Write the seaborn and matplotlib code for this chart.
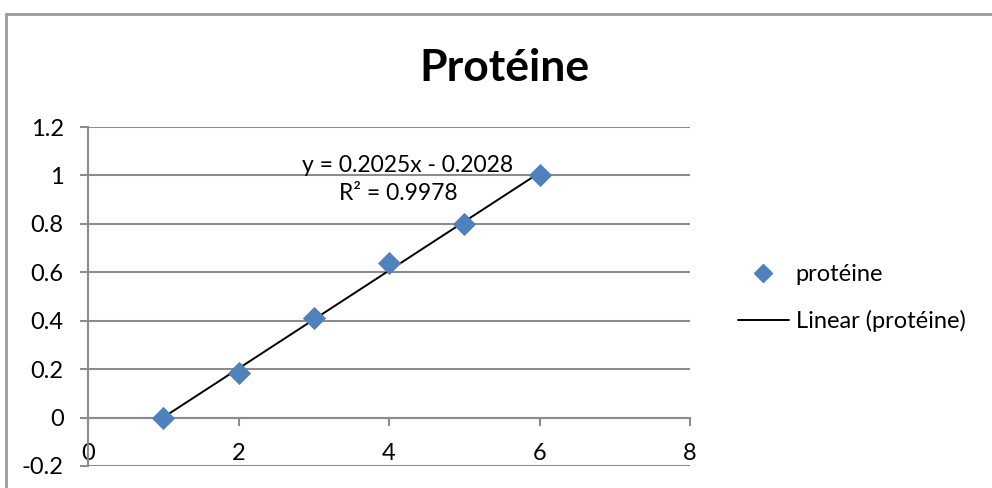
import numpy as np
import pandas as pd
import matplotlib
matplotlib.use("Agg")
import matplotlib.pyplot as plt
import seaborn as sns
from matplotlib.lines import Line2D

# données
concentration = [1, 2, 3, 4, 5, 6]
absorbance = [0.0, 0.185, 0.41, 0.64, 0.80, 1.0]
y_ticks = [-0.2, 0, 0.2, 0.4, 0.6, 0.8, 1.0, 1.2]
y_labels = ["-0.2", "0", "0.2", "0.4", "0.6", "0.8", "1", "1.2"]
x_ticks = [0, 2, 4, 6, 8]
x_labels = ["0", "2", "4", "6", "8"]
equation = "y = 0.2025x - 0.2028"
r_carre = "R² = 0.9978"

df = pd.DataFrame({"x": concentration, "y": absorbance})

sns.set_style("white")
plt.rcParams['font.family'] = ['Lato', 'DejaVu Sans']
plt.rcParams['text.color'] = 'black'
plt.rcParams['xtick.labelcolor'] = 'black'
plt.rcParams['ytick.labelcolor'] = 'black'

W, H = 992, 488
fig = plt.figure(figsize=(W / 100, H / 100), dpi=100)
ax = fig.add_axes([88 / W, 1 - 466 / H, (690 - 88) / W, (466 - 127) / H])

grille = '#8c8c8c'
bleu = '#4F81BD'
taille = 17

sns.regplot(data=df, x='x', y='y', ax=ax, scatter=False, ci=None, truncate=True,
            color='black', line_kws={'linewidth': 1.4, 'zorder': 3})
sns.scatterplot(data=df, x='x', y='y', ax=ax, marker='D', s=140, color=bleu,
                edgecolor=bleu, linewidth=0, zorder=4, legend=False)

ax.set_xlim(0, 8)
ax.set_ylim(-0.2, 1.2)
ax.set_yticks(y_ticks)
ax.set_yticklabels(y_labels)
ax.set_xticks(x_ticks)
ax.set_xticklabels(x_labels)
ax.set_xlabel('')
ax.set_ylabel('')

for y in y_ticks:
    ax.axhline(y, color=grille, linewidth=1.5, zorder=1)

for s in ['top', 'right']:
    ax.spines[s].set_visible(False)
ax.spines['left'].set_color(grille)
ax.spines['left'].set_linewidth(1.5)
ax.spines['bottom'].set_position(('data', 0))
ax.spines['bottom'].set_color(grille)
ax.spines['bottom'].set_linewidth(1.5)

ax.tick_params(axis='y', direction='out', length=5.5, width=1.5, color=grille,
               labelsize=taille, pad=12, left=True)
ax.tick_params(axis='x', direction='out', length=5.5, width=1.5, color=grille,
               labelsize=taille, pad=13, bottom=True)

ax.text(0.5316, 0.885, equation, transform=ax.transAxes, ha='center', va='center', fontsize=16.5)
ax.text(0.515, 0.805, r_carre, transform=ax.transAxes, ha='center', va='center', fontsize=16.5)

fig.text(504 / W, 1 - 68 / H, 'Protéine', ha='center', va='center',
         fontsize=32, fontweight='bold')

handles = [Line2D([], [], marker='D', color=bleu, linestyle='none', markersize=9),
           Line2D([], [], color='black', linewidth=1.4)]
fig.legend(handles, ['protéine', 'Linear (protéine)'], loc='center left',
           bbox_to_anchor=(738 / W, 1 - 298 / H), frameon=False, fontsize=taille,
           handlelength=2.15, labelspacing=1.05, handletextpad=0.3,
           borderpad=0, borderaxespad=0)

# cadre du graphique
fig.add_artist(Line2D([5.5 / W, 5.5 / W], [0, 1 - 13.5 / H], color='#999999', linewidth=2,
                      transform=fig.transFigure))
fig.add_artist(Line2D([5.5 / W, 1], [1 - 13.5 / H, 1 - 13.5 / H], color='#999999', linewidth=2,
                      transform=fig.transFigure))

fig.savefig('out.png', dpi=100)
